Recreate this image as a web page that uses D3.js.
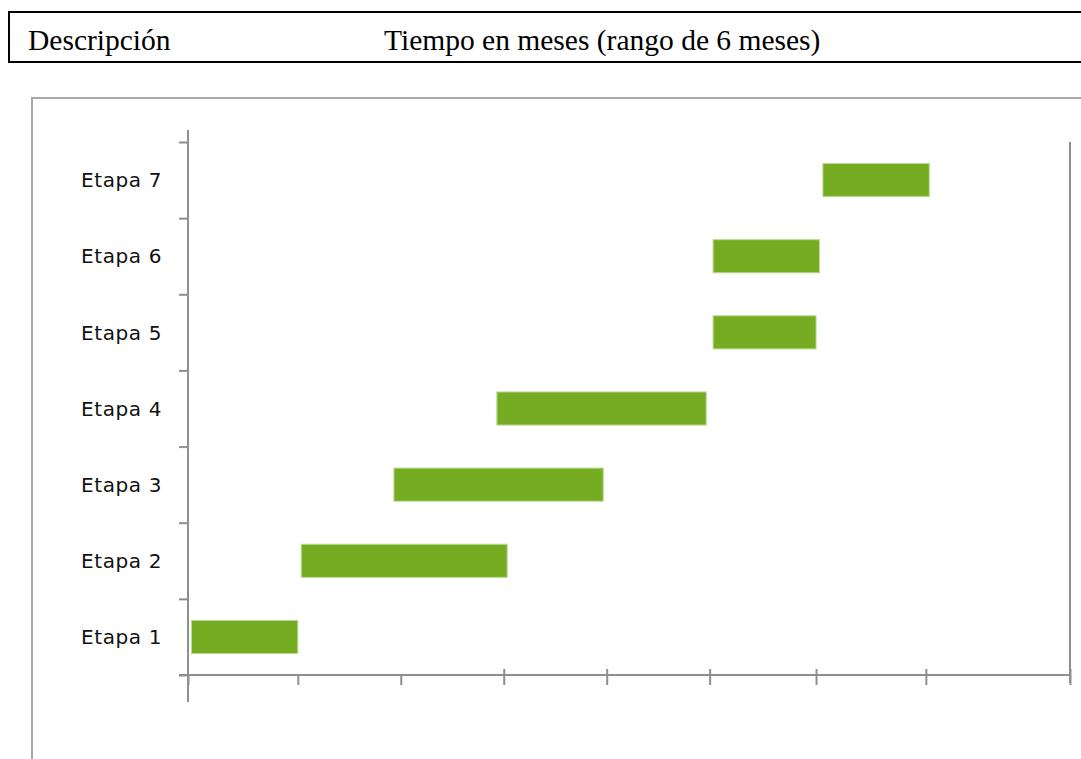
<!DOCTYPE html>
<html>
<head><meta charset="utf-8"/>
<style>
body { margin: 0; background: #fff; }
svg { display: block; }
.head { font-family: "Liberation Serif", "Times New Roman", serif; font-size: 29.5px; fill: #000; }
.etapa { font-family: "DejaVu Sans", Verdana, sans-serif; font-size: 20px; letter-spacing: 0.6px; fill: #111; }
.axis path, .axis line { stroke: #8f8f8f; stroke-width: 2; }
</style>
<script src="https://cdnjs.cloudflare.com/ajax/libs/d3/7.8.5/d3.min.js"></script>
</head>
<body>
<div id="chart"></div>
<script>

// header row of the table
var headers = ["Descripción", "Tiempo en meses (rango de 6 meses)"];

// stages, bottom to top, with start / end in days
var etapas = ["Etapa 1", "Etapa 2", "Etapa 3", "Etapa 4", "Etapa 5", "Etapa 6", "Etapa 7"];
var inicio = [1, 33, 60, 90, 153, 153, 185];
var fin    = [32, 93, 121, 151, 183, 184, 216];

// x axis tick marks (days)
var xTicks = [0, 32, 62, 92, 122, 152, 183, 215, 257];

var width = 1081, height = 759;

var svg = d3.select("#chart").append("svg")
    .attr("width", width)
    .attr("height", height);

// table header
svg.append("rect")
    .attr("x", 9).attr("y", 12)
    .attr("width", 1100).attr("height", 50)
    .attr("fill", "none")
    .attr("stroke", "#000")
    .attr("stroke-width", 2);

svg.append("text").attr("class", "head")
    .attr("x", 28).attr("y", 50)
    .text(headers[0]);
svg.append("text").attr("class", "head")
    .attr("x", 384).attr("y", 50)
    .text(headers[1]);

// chart frame (cut by the page edge)
svg.append("rect")
    .attr("x", 32).attr("y", 98)
    .attr("width", 1100).attr("height", 700)
    .attr("fill", "none")
    .attr("stroke", "#a8a8a8")
    .attr("stroke-width", 2);

var plot = {left: 188, right: 1070, top: 142, bottom: 675};

var x = d3.scaleLinear()
    .domain([0, d3.max(xTicks)])
    .range([plot.left, plot.right]);

var y = d3.scaleBand()
    .domain(etapas)
    .range([plot.bottom, plot.top])
    .padding(0);

var yLin = d3.scaleLinear()
    .domain([0, etapas.length])
    .range([plot.bottom, plot.top]);

// y axis
var yAxis = svg.append("g")
    .attr("class", "axis")
    .attr("transform", "translate(" + plot.left + ",0)")
    .call(d3.axisLeft(yLin)
        .tickValues(d3.range(0, etapas.length + 1))
        .tickFormat("")
        .tickSizeInner(9)
        .tickSizeOuter(0));
yAxis.select(".domain").remove();
yAxis.append("line")
    .attr("x1", 0).attr("x2", 0)
    .attr("y1", plot.top - 12)
    .attr("y2", plot.bottom + 27);

// x axis
var xAxis = svg.append("g")
    .attr("class", "axis")
    .attr("transform", "translate(0," + plot.bottom + ")")
    .call(d3.axisBottom(x)
        .tickValues(xTicks)
        .tickFormat("")
        .tickSizeInner(10)
        .tickSizeOuter(0));
xAxis.select(".domain").remove();
xAxis.append("line")
    .attr("x1", plot.left - 9).attr("x2", plot.right)
    .attr("y1", 0).attr("y2", 0);
// later ticks cross the axis line a little
xAxis.selectAll(".tick line")
    .attr("y1", function(d) { return d >= 92 ? -6 : 0; });

// right edge of the plot area
svg.append("line")
    .attr("x1", x(d3.max(xTicks))).attr("x2", x(d3.max(xTicks)))
    .attr("y1", plot.top).attr("y2", plot.bottom + 8)
    .attr("stroke", "#8f8f8f")
    .attr("stroke-width", 2);

// labels
svg.selectAll(".etapa")
    .data(etapas)
    .enter().append("text")
    .attr("class", "etapa")
    .attr("x", plot.left - 26)
    .attr("y", function(d) { return y(d) + y.bandwidth() / 2; })
    .attr("dy", "0.36em")
    .attr("text-anchor", "end")
    .text(function(d) { return d; });

// bars
var barH = y.bandwidth() * 0.435;
svg.selectAll(".bar")
    .data(etapas)
    .enter().append("rect")
    .attr("class", "bar")
    .attr("x", function(d, i) { return x(inicio[i]); })
    .attr("width", function(d, i) { return x(fin[i]) - x(inicio[i]); })
    .attr("y", function(d) { return y(d) + (y.bandwidth() - barH) / 2; })
    .attr("height", barH)
    .attr("fill", "#75ac21")
    .attr("stroke", "#b9dc94")
    .attr("stroke-width", 1);

</script>
</body>
</html>
